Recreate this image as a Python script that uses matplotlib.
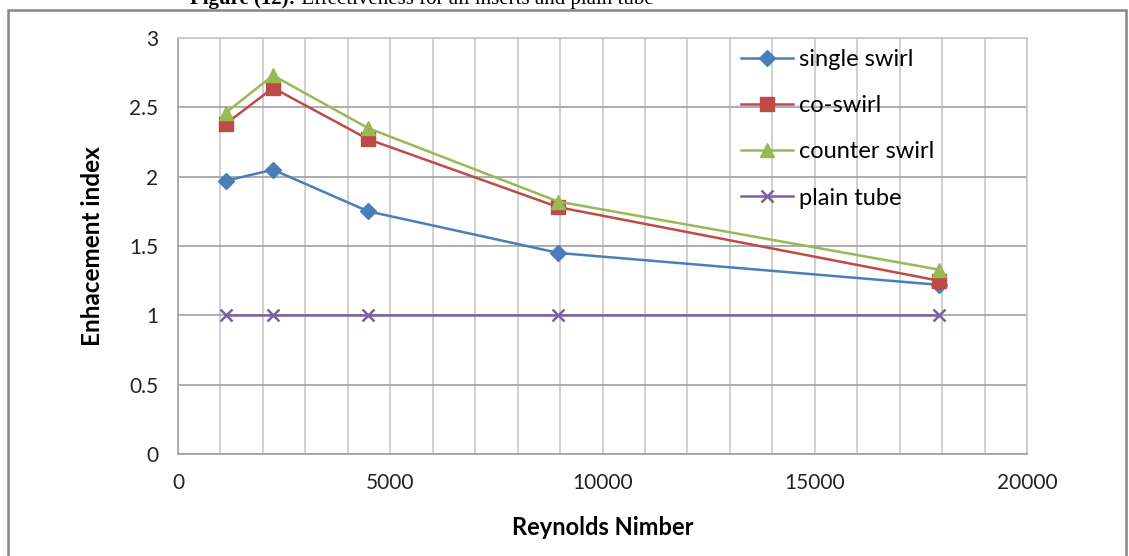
import matplotlib
matplotlib.use("Agg")
import matplotlib.pyplot as plt
from matplotlib.ticker import MultipleLocator
from matplotlib.patches import Rectangle

reynolds = [1120, 2240, 4480, 8960, 17920]
single_swirl = [1.97, 2.05, 1.75, 1.45, 1.22]
co_swirl = [2.38, 2.64, 2.27, 1.78, 1.25]
counter_swirl = [2.46, 2.73, 2.35, 1.82, 1.33]
plain_tube = [1.0, 1.0, 1.0, 1.0, 1.0]

series_labels = ["single swirl", "co-swirl", "counter swirl", "plain tube"]
x_label = "Reynolds Nimber"
y_label = "Enhacement index"
caption_bold = "Figure (12):"
caption_rest = " Effectiveness for all inserts and plain tube"

plt.rcParams['font.family'] = ['Lato', 'DejaVu Sans']

fig = plt.figure(figsize=(11.29, 5.56), dpi=100)
W, H = 1129, 556
ax = fig.add_axes([178 / W, (H - 454) / H, (1027 - 178) / W, (454 - 38) / H])

styles = [
    dict(color="#4a7ebb", marker="D", ms=8),
    dict(color="#be4b48", marker="s", ms=10),
    dict(color="#98b954", marker="^", ms=10),
    dict(color="#7d60a0", marker="x", ms=9, mew=1.8),
]
for ys, lab, st in zip([single_swirl, co_swirl, counter_swirl, plain_tube], series_labels, styles):
    ax.plot(reynolds, ys, label=lab, lw=1.8, zorder=3, **st)

ax.set_xlim(0, 20000)
ax.set_ylim(0, 3)
ax.xaxis.set_major_locator(MultipleLocator(5000))
ax.xaxis.set_minor_locator(MultipleLocator(1000))
ax.set_yticks([0, 0.5, 1, 1.5, 2, 2.5, 3])
ax.set_yticklabels(["0", "0.5", "1", "1.5", "2", "2.5", "3"])
ax.grid(True, axis='x', which='both', color="#c8c8c8", lw=1.2, zorder=0)
ax.grid(True, axis='y', which='major', color="#a0a0a0", lw=1.2, zorder=0)
ax.tick_params(which='both', length=0, labelsize=15, colors="#222222")
ax.tick_params(axis='x', pad=14)
ax.tick_params(axis='y', pad=14)
for side in ['left', 'bottom', 'top', 'right']:
    ax.spines[side].set_color("#a0a0a0")
    ax.spines[side].set_linewidth(1.2)
ax.spines['top'].set_color("#c8c8c8")
ax.spines['right'].set_color("#c8c8c8")

ax.set_xlabel(x_label, fontsize=17, fontweight='bold', labelpad=16)
ax.set_ylabel(y_label, fontsize=17.5, fontweight='bold', labelpad=18)

leg = ax.legend(loc='upper left', bbox_to_anchor=(0.638, 1.025), frameon=False,
                fontsize=17, handlelength=2.2, handletextpad=0.25, labelspacing=1.07)

# outer chart border
fig.patches.append(Rectangle((8 / W, -0.1), (1126 - 8) / W, 1.1 - 10 / H,
                             transform=fig.transFigure, fill=False,
                             edgecolor="#868686", lw=1.8))

# caption cut off at the top, as in the reference
t1 = fig.text(190 / W, 1 - 4 / H, caption_bold, fontsize=15, fontweight='bold',
              family='Liberation Serif', va='baseline', ha='left')
fig.canvas.draw()
bb = t1.get_window_extent()
fig.text(bb.x1 / W, 1 - 4 / H, caption_rest, fontsize=15,
         family='Liberation Serif', va='baseline', ha='left')

fig.savefig("out.png", dpi=100)
